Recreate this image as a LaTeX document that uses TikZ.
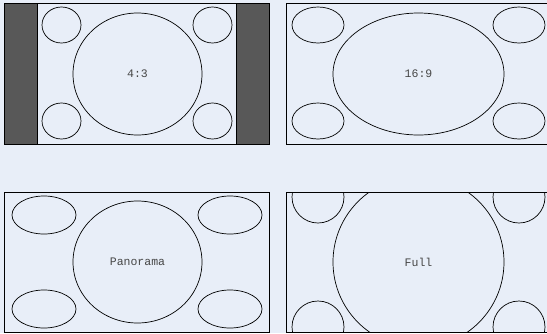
\documentclass[tikz,border=0pt]{standalone}
\usepackage{fontspec}
\setmonofont{Liberation Mono}
\usepackage{xcolor}
\usepackage{tikz}
\usetikzlibrary{shapes.geometric, positioning}
\definecolor{screenbg}{RGB}{232,238,248}
\definecolor{barfill}{RGB}{88,88,88}
\definecolor{labelgray}{RGB}{70,70,70}

\begin{document}
\begin{tikzpicture}[
    x=1pt, y=-1pt,
    screen/.style={draw=black, line width=0.8pt, fill=screenbg},
    bar/.style={draw=black, line width=0.8pt, fill=barfill},
    oval/.style={ellipse, draw=black, line width=0.7pt, inner sep=0pt, outer sep=0pt,
                 font=\ttfamily\fontsize{11.5}{13}\selectfont, text=labelgray}
]

    % Sfondo e area del disegno
    \fill[screenbg] (0,0) rectangle (547,333);
    \useasboundingbox (0,0) rectangle (547,333);
    \clip (0,0) rectangle (547,333);

    % 1. Schermo 4:3 con bande laterali
    \draw[bar] (4,3) rectangle (37,144);
    \draw[bar] (236,3) rectangle (269,144);
    \draw[screen] (37,3) rectangle (236,144);
    \node[oval, minimum width=129pt, minimum height=122pt] (ratioA) at (137.5,74) {4:3};
    \node[oval, minimum width=39pt, minimum height=36pt] (ratioAnw) at (61.5,25) {};
    \node[oval, minimum width=39pt, minimum height=36pt] (ratioAne) at (212.5,25) {};
    \node[oval, minimum width=39pt, minimum height=36pt] (ratioAsw) at (61.5,121) {};
    \node[oval, minimum width=39pt, minimum height=36pt] (ratioAse) at (212.5,121) {};

    % 2. Schermo 16:9
    \draw[screen] (286,3) rectangle (551,144);
    \node[oval, minimum width=171pt, minimum height=122pt] (ratioB) at (418.5,74) {16:9};
    \node[oval, minimum width=52pt, minimum height=36pt] (ratioBnw) at (318,25) {};
    \node[oval, minimum width=52pt, minimum height=36pt] (ratioBne) at (519,25) {};
    \node[oval, minimum width=52pt, minimum height=36pt] (ratioBsw) at (318,121) {};
    \node[oval, minimum width=52pt, minimum height=36pt] (ratioBse) at (519,121) {};

    % 3. Schermo Panorama
    \draw[screen] (4,192) rectangle (269,332);
    \node[oval, minimum width=129pt, minimum height=122pt] (panorama) at (137.5,262) {Panorama};
    \node[oval, minimum width=64pt, minimum height=38pt] (panoramanw) at (44,215) {};
    \node[oval, minimum width=64pt, minimum height=38pt] (panoramane) at (230,215) {};
    \node[oval, minimum width=64pt, minimum height=38pt] (panoramasw) at (44,309) {};
    \node[oval, minimum width=64pt, minimum height=38pt] (panoramase) at (230,309) {};

    % 4. Schermo Full (le forme escono dal bordo)
    \draw[screen] (286,192) rectangle (551,332);
    \begin{scope}
        \clip (286,192) rectangle (551,332);
        \node[oval, minimum width=171pt, minimum height=171pt] (full) at (418.5,262) {Full};
        \node[oval, minimum width=52pt, minimum height=52pt] (fullnw) at (318,197) {};
        \node[oval, minimum width=52pt, minimum height=52pt] (fullne) at (519,197) {};
        \node[oval, minimum width=52pt, minimum height=52pt] (fullsw) at (318,327) {};
        \node[oval, minimum width=52pt, minimum height=52pt] (fullse) at (519,327) {};
    \end{scope}
    \draw[line width=0.8pt] (286,192) rectangle (551,332);

\end{tikzpicture}
\end{document}
